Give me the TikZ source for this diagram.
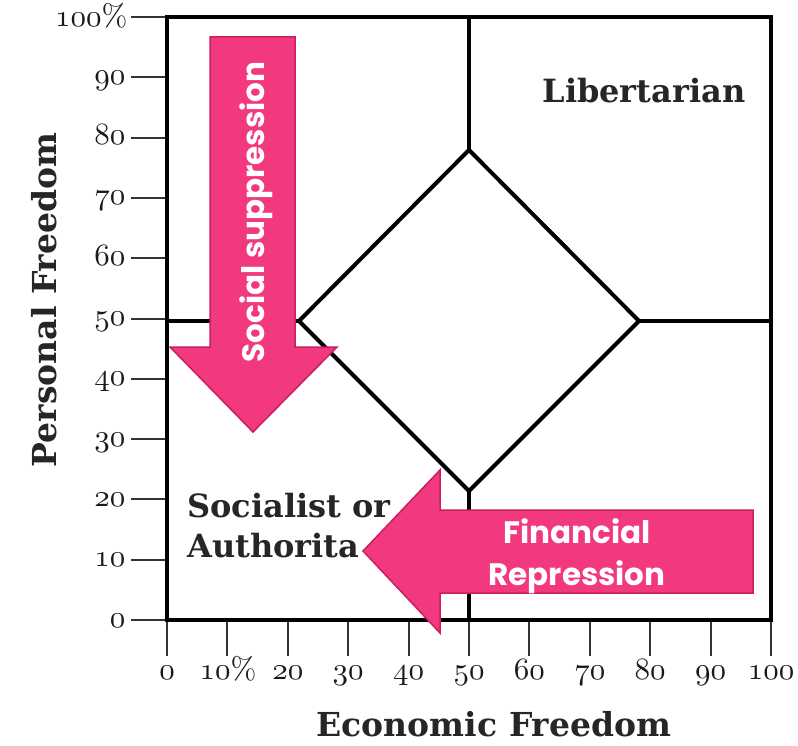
\documentclass[tikz,border=0pt]{standalone}
\usepackage{fontspec}
\newfontfamily\labfont{DejaVu Serif}
\newfontfamily\popfont{Poppins}
\newcommand{\osn}[1]{\ensuremath{\mathnormal{#1}}}
\definecolor{pinkfill}{HTML}{F2387F}
\definecolor{pinkedge}{HTML}{C81F60}
\tikzset{
  frameline/.style={line width=4pt, line cap=rect},
  tickline/.style={line width=2pt, draw=black!80},
  ylab/.style={anchor=base east, scale=3.1, inner sep=0pt, text=black!90},
  xlab/.style={anchor=base, scale=3.1, inner sep=0pt, text=black!90},
  quadlab/.style={font=\labfont\bfseries\fontsize{32}{40}\selectfont, inner sep=0pt, text=black!85},
  axislab/.style={font=\labfont\bfseries\fontsize{33}{36}\selectfont, inner sep=0pt, text=black!85},
  pinkarrow/.style={fill=pinkfill, draw=pinkedge, line width=1.5pt, line join=miter},
  arrowtext/.style={text=white, font=\popfont\bfseries\fontsize{31}{36}\selectfont, inner sep=0pt, align=center}
}
\begin{document}
\begin{tikzpicture}[x=1pt,y=-1pt]
\useasboundingbox[fill=white] (0,0) rectangle (798,746);
% frame corners
\coordinate (tl) at (167,17);
\coordinate (tr) at (771,17);
\coordinate (br) at (771,620);
\coordinate (bl) at (167,620);
% center lines endpoints
\coordinate (ctop) at (469,17);
\coordinate (cbot) at (469,620);
\coordinate (cleft) at (167,321);
\coordinate (cright) at (771,321);
% diamond vertices
\coordinate (dT) at (469,150);
\coordinate (dR) at (639,321);
\coordinate (dB) at (469,491);
\coordinate (dL) at (299,321);
% ticks
\foreach \i/\lab in {0/0,1/10,2/20,3/30,4/40,5/50,6/60,7/70,8/80,9/90}{
  \coordinate (yt\i) at (167,{620-60.3*\i});
  \coordinate (ys\i) at (131,{620-60.3*\i});
  \draw[tickline] (ys\i) -- (yt\i);
  \node[ylab] (yl\i) at (126,{627-60.3*\i}) {\osn{\lab}};
}
\coordinate (yt10) at (167,17);
\coordinate (ys10) at (131,17);
\draw[tickline] (ys10) -- (yt10);
\node[ylab] (yl10) at (128,27) {\osn{100}\%};
\foreach \i in {0,...,10}{
  \coordinate (xt\i) at ({167+60.4*\i},620);
  \coordinate (xs\i) at ({167+60.4*\i},656);
  \draw[tickline] (xt\i) -- (xs\i);
}
\foreach \i/\lab in {0/0,2/20,3/30,4/40,5/50,6/60,7/70,8/80,9/90,10/100}{
  \node[xlab] (xl\i) at ({167+60.4*\i},679) {\osn{\lab}};
}
\node[xlab] (xl1) at (228,679) {\osn{10}\%};
% frame and lines
\draw[frameline] (tl) -- (tr) -- (br) -- (bl) -- cycle;
\draw[frameline] (ctop) -- (dT);
\draw[frameline] (dB) -- (cbot);
\draw[frameline] (cleft) -- (dL);
\draw[frameline] (dR) -- (cright);
\draw[line width=4pt, line join=miter] (dT) -- (dR) -- (dB) -- (dL) -- cycle;
% quadrant labels
\node[quadlab, anchor=center] (lib) at (644,91) {Libertarian};
\node[quadlab, anchor=north west, align=left] (soc) at (187,493) {Socialist or\\Authorita};
% axis labels
\node[axislab, rotate=90] (pf) at (44,300) {Personal Freedom};
\node[axislab] (ef) at (494,724) {Economic Freedom};
% pink arrows
\draw[pinkarrow] (210,37) -- (295,37) -- (295,347) -- (337,347) -- (253,432) -- (170,347) -- (210,347) -- cycle;
\node[arrowtext, rotate=90] (ss) at (256,212) {Social suppression};
\draw[pinkarrow] (753,510) -- (753,593) -- (440,593) -- (440,633) -- (363,551) -- (440,470) -- (440,510) -- cycle;
\node[arrowtext] (fin) at (577,531) {Financial};
\node[arrowtext] (rep) at (577,577) {Repression};
\end{tikzpicture}
\end{document}
